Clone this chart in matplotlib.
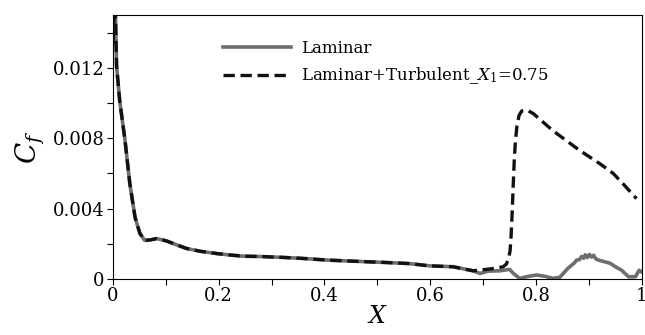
import matplotlib
matplotlib.use("Agg")
import matplotlib.pyplot as plt
from matplotlib.ticker import MultipleLocator, FixedFormatter, FixedLocator

plt.rcParams['font.family'] = ['DejaVu Serif']
plt.rcParams['mathtext.fontset'] = 'dejavuserif'

# shared laminar part (both runs identical up to ~0.68)
x_common = [0.0, 0.002, 0.005, 0.007, 0.013, 0.023, 0.032, 0.042, 0.051, 0.06,
            0.07, 0.083, 0.101, 0.12, 0.139, 0.165, 0.196, 0.22, 0.246, 0.28,
            0.322, 0.36, 0.404, 0.45, 0.517, 0.56, 0.599, 0.643, 0.681]
cf_common = [0.0134, 0.0148, 0.0149, 0.0121, 0.0101, 0.00787, 0.00543, 0.0035, 0.0026, 0.0022,
             0.00222, 0.0023, 0.00217, 0.00195, 0.00174, 0.00158, 0.00145, 0.00137, 0.0013, 0.00128,
             0.00123, 0.00117, 0.00108, 0.00102, 0.00094, 0.00088, 0.00075, 0.0007, 0.00047]

# laminar tail
x_lam = [0.694, 0.71, 0.732, 0.75, 0.758, 0.769, 0.785, 0.801, 0.818, 0.832, 0.845,
         0.86, 0.872, 0.877, 0.882, 0.886, 0.89, 0.893, 0.897, 0.901, 0.905, 0.909,
         0.913, 0.918, 0.93, 0.94, 0.95, 0.962, 0.975, 0.988, 0.995, 1.0]
cf_lam = [0.00032, 0.00045, 0.00047, 0.00055, 0.0003, 0.00004, 0.00015, 0.00023, 0.00015, 0.00004, 0.0001,
          0.0006, 0.0009, 0.00108, 0.0011, 0.00128, 0.00118, 0.00138, 0.00122, 0.0014, 0.00125, 0.00135,
          0.00115, 0.00108, 0.00098, 0.0009, 0.0007, 0.0005, 0.00013, 0.00013, 0.0005, 0.0004]

# laminar + turbulent tail
x_turb = [0.706, 0.725, 0.738, 0.744, 0.748, 0.751, 0.753, 0.755, 0.757, 0.759, 0.761,
          0.764, 0.768, 0.773, 0.779, 0.786, 0.795, 0.832,
          0.883, 0.921, 0.946, 0.965, 0.99]
cf_turb = [0.00055, 0.00062, 0.0007, 0.00085, 0.00115, 0.0016, 0.0025, 0.0038, 0.0054, 0.0068, 0.0078,
           0.0087, 0.0093, 0.00955, 0.0096, 0.00955, 0.0094, 0.00843,
           0.0073, 0.00655, 0.006, 0.0054, 0.00457]

fig = plt.figure(figsize=(6.45, 3.35), dpi=100)
ax = fig.add_axes([0.175, 0.167, 0.82, 0.788])

ax.plot(x_common + x_lam, cf_common + cf_lam, color='#6e6e6e', lw=2.6,
        label='Laminar', solid_joinstyle='round')
ax.plot(x_common + x_turb, cf_common + cf_turb, color='#111111', lw=2.4,
        ls=(0, (3.4, 1.7)), label='Laminar+Turbulent_$X_1$=0.75')

ax.set_xlim(0, 1)
ax.set_ylim(0, 0.015)
ax.xaxis.set_major_locator(FixedLocator([0, 0.2, 0.4, 0.6, 0.8, 1.0]))
ax.xaxis.set_major_formatter(FixedFormatter(['0', '0.2', '0.4', '0.6', '0.8', '1']))
ax.xaxis.set_minor_locator(MultipleLocator(0.1))
ax.yaxis.set_major_locator(FixedLocator([0, 0.004, 0.008, 0.012]))
ax.yaxis.set_major_formatter(FixedFormatter(['0', '0.004', '0.008', '0.012']))
ax.yaxis.set_minor_locator(MultipleLocator(0.002))
ax.tick_params(which='both', direction='out', length=4, width=0.8, labelsize=13, pad=2)
for s in ax.spines.values():
    s.set_linewidth(0.8)

ax.set_xlabel('$X$', fontsize=17, labelpad=0)
ax.set_ylabel('$C_f$', fontsize=20, labelpad=4)

ax.legend(loc='upper left', bbox_to_anchor=(0.345, 0.88), bbox_transform=fig.transFigure,
          frameon=False, fontsize=12, handlelength=4.1, handletextpad=0.6,
          borderpad=0, borderaxespad=0, labelspacing=0.5)

fig.savefig('out.png', dpi=100)
